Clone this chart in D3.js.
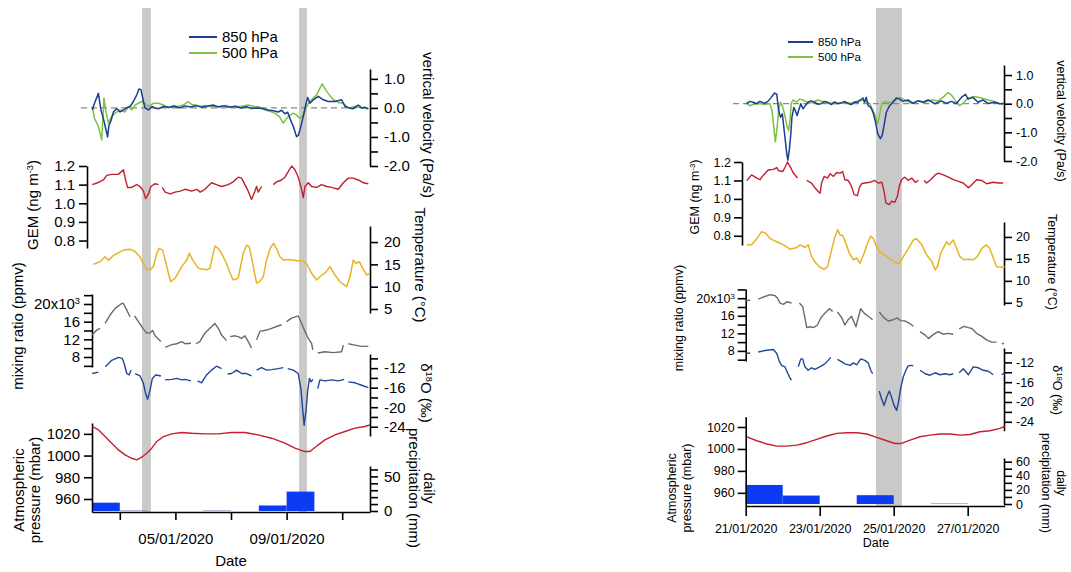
<!DOCTYPE html>
<html><head><meta charset="utf-8">
<script src="https://cdn.jsdelivr.net/npm/d3@7"></script>
<style>body{margin:0;background:#fff}svg{display:block}</style>
</head><body><svg id="c" width="1071" height="572"></svg>
<script>
// ---------------- DATA (time = days after panel start) ----------------
const L_start = "2020-01-02", L_end = "2020-01-12";
const R_start = "2020-01-21", R_end = "2020-01-28";
const L_xTickLabels = ["05/01/2020", "09/01/2020"];
const legendLabels = ["850 hPa", "500 hPa"];

const L_bands = [[1.8, 2.12], [7.45, 7.73]];
const R_bands = [[3.52, 4.22]];

const L_vv850 = [[0.01,-0.07],[0.09,0.16],[0.23,0.5],[0.32,-0.07],[0.41,-0.36],[0.49,-0.7],[0.56,-1.0],[0.61,-0.6],[0.68,-0.45],[0.77,-0.14],[0.89,-0.02],[1.01,-0.14],[1.13,-0.07],[1.25,0],[1.37,0.05],[1.49,0.22],[1.61,0.45],[1.69,0.65],[1.76,0.63],[1.85,0.22],[1.91,0],[2.03,-0.07],[2.15,0.05],[2.27,0],[2.39,-0.03],[2.57,0.05],[2.75,0.02],[2.95,0.06],[3.15,0.0],[3.35,0.07],[3.55,0.03],[3.75,0.08],[3.95,0.02],[4.15,0.06],[4.35,0.1],[4.55,0.03],[4.75,0.07],[4.95,0.02],[5.15,0.06],[5.35,0.0],[5.55,0.04],[5.75,-0.02],[5.98,0],[6.16,-0.03],[6.34,-0.07],[6.52,-0.1],[6.7,-0.14],[6.82,-0.08],[6.94,-0.2],[7.04,-0.15],[7.12,-0.36],[7.24,-0.64],[7.36,-0.99],[7.42,-0.95],[7.48,-0.76],[7.6,-0.29],[7.7,0.16],[7.76,0.36],[7.84,0.16],[7.96,0.28],[8.14,0.4],[8.32,0.28],[8.5,0.22],[8.74,0.22],[8.98,0.28],[9.1,0.05],[9.25,0.0],[9.39,-0.03],[9.5,0.05],[9.58,0.1],[9.7,0],[9.82,0.02],[9.94,-0.03]];
const L_vv500 = [[0.01,0.05],[0.09,-0.36],[0.23,-0.64],[0.35,-1.1],[0.43,0.34],[0.49,-0.07],[0.59,-0.52],[0.71,-0.29],[0.83,-0.18],[1.01,-0.07],[1.19,-0.14],[1.31,0.05],[1.43,-0.07],[1.55,0.1],[1.67,0.16],[1.79,0.22],[1.91,0.16],[2.03,0.05],[2.21,0.16],[2.39,0.16],[2.57,0.1],[2.75,0],[2.92,0.08],[3.1,0.05],[3.28,0.1],[3.46,0.22],[3.58,0.12],[3.7,0.1],[3.88,0.05],[4.06,0.08],[4.3,0.04],[4.54,0.05],[4.78,0.08],[5.02,0.03],[5.14,0.05],[5.38,0.06],[5.62,0.1],[5.86,0.04],[5.98,0.05],[6.22,-0.07],[6.4,-0.12],[6.58,-0.18],[6.74,-0.3],[6.88,-0.52],[7.06,-0.29],[7.24,-0.18],[7.36,-0.25],[7.48,-0.36],[7.6,-0.24],[7.78,0.16],[7.9,0.28],[8.08,0.45],[8.28,0.83],[8.44,0.57],[8.68,0.28],[8.86,0.19],[9.04,0.16],[9.22,0],[9.46,0.05],[9.7,0],[9.94,-0.03]];
const L_gem = [[0.01,1.10],[0.2,1.11],[0.41,1.125],[0.53,1.15],[0.71,1.155],[0.95,1.155],[1.13,1.18],[1.21,1.125],[1.28,1.085],[1.43,1.085],[1.61,1.10],[1.73,1.09],[1.85,1.065],[1.93,1.025],[2.03,1.05],[2.12,1.09],[2.27,1.105],[2.39,1.10],[2.45,null],[2.53,1.085],[2.63,1.06],[2.81,1.05],[2.99,1.06],[3.17,1.065],[3.35,1.075],[3.58,1.065],[3.77,1.075],[3.89,1.06],[4.06,1.075],[4.3,1.11],[4.48,1.10],[4.66,1.09],[4.9,1.10],[5.08,1.115],[5.26,1.14],[5.38,1.135],[5.5,1.10],[5.62,1.065],[5.74,1.02],[5.86,1.065],[5.92,1.09],[5.98,1.06],[6.1,1.09],[6.3,null],[6.52,1.10],[6.64,1.115],[6.82,1.125],[6.94,1.14],[7.06,1.17],[7.18,1.20],[7.3,1.18],[7.42,1.14],[7.52,1.085],[7.6,1.03],[7.66,1.09],[7.78,1.11],[7.9,1.09],[8.08,1.085],[8.26,1.10],[8.44,1.09],[8.62,1.085],[8.86,1.075],[9.04,1.11],[9.22,1.135],[9.4,1.135],[9.58,1.125],[9.76,1.11],[9.94,1.105]];
const L_temp = [[0.05,15.0],[0.29,15.6],[0.47,16.7],[0.59,15.9],[0.77,17.0],[1.13,18.2],[1.37,18.4],[1.55,17.9],[1.72,16.7],[1.84,15.2],[1.97,13.9],[2.09,13.8],[2.21,14.5],[2.33,17.5],[2.42,18.6],[2.54,18.2],[2.63,16],[2.75,13.0],[2.83,11.1],[2.99,11.9],[3.23,14.5],[3.41,16],[3.5,17.5],[3.62,16],[3.83,14.1],[4.12,13.8],[4.24,14.1],[4.42,19.1],[4.54,18.6],[4.66,17.5],[4.84,15.2],[4.97,13.0],[5.08,11.5],[5.26,11.9],[5.44,17.5],[5.56,19.3],[5.66,18.9],[5.78,15.2],[5.92,10.8],[6.02,11.1],[6.16,12.2],[6.28,16],[6.41,18.6],[6.53,19.7],[6.65,18.4],[6.76,16.7],[6.88,16],[7.12,16.1],[7.36,15.8],[7.6,15.8],[7.72,15.2],[7.9,13],[8.08,11.5],[8.26,12.6],[8.38,13],[8.56,14.5],[8.74,12.6],[8.92,11.1],[9.16,10.0],[9.28,12.2],[9.4,16],[9.5,15.2],[9.62,15.6],[9.76,13.8],[9.88,12.6],[9.98,13.0]];
const L_mr = [[0.01,13000],[0.17,14100],[0.29,14500],[0.36,null],[0.47,15600],[0.65,17500],[0.83,19000],[1.07,20100],[1.13,20100],[1.25,18600],[1.37,17100],[1.45,null],[1.53,17300],[1.67,16000],[1.85,14300],[1.97,13400],[2.09,13500],[2.18,14000],[2.27,12800],[2.48,11500],[2.55,null],[2.63,10200],[2.87,10800],[3.05,11000],[3.23,11500],[3.35,11000],[3.56,11100],[3.65,null],[3.74,11000],[3.88,11500],[4.06,13400],[4.24,14500],[4.42,15600],[4.54,14500],[4.66,13000],[4.84,11700],[4.9,null],[4.97,12600],[5.14,12800],[5.26,12600],[5.38,12200],[5.5,12800],[5.62,11500],[5.74,10000],[5.83,null],[5.92,11900],[6.04,13800],[6.28,14100],[6.46,14500],[6.64,14900],[6.82,15300],[6.91,null],[7.0,16000],[7.18,16800],[7.42,17300],[7.54,15600],[7.66,13800],[7.78,12200],[7.9,11100],[7.94,9600],[8.03,null],[8.12,8900],[8.38,9200],[8.68,9000],[8.98,9200],[9.04,10700],[9.13,null],[9.22,11000],[9.46,10700],[9.7,10400],[9.94,10400]];
const L_d18O = [[0.01,-13.1],[0.23,-12.8],[0.36,null],[0.48,-11.7],[0.71,-10.4],[0.95,-9.8],[1.09,-10.0],[1.16,-11.1],[1.25,-13.1],[1.33,-13.4],[1.41,-12.4],[1.48,null],[1.55,-13.1],[1.73,-13.6],[1.85,-15.1],[1.93,-17.2],[2.0,-18.4],[2.09,-16.5],[2.17,-14.1],[2.29,-13.4],[2.48,-13.6],[2.55,null],[2.63,-14.4],[2.87,-14.3],[3.05,-14.1],[3.23,-14.4],[3.35,-14.3],[3.56,-14.6],[3.65,null],[3.8,-14.6],[3.94,-15.0],[4.12,-13.4],[4.3,-12.4],[4.48,-11.6],[4.66,-12.1],[4.75,null],[4.88,-13.2],[5.02,-13.1],[5.2,-12.4],[5.38,-13.1],[5.56,-13.1],[5.74,-13.6],[5.83,null],[5.92,-12.4],[6.1,-11.9],[6.28,-12.4],[6.46,-12.3],[6.7,-12.1],[6.88,-11.9],[6.96,null],[7.04,-12.1],[7.24,-12.4],[7.42,-13.1],[7.52,-16.5],[7.58,-20.6],[7.63,-23.7],[7.7,-20.6],[7.76,-16.5],[7.82,-14.1],[7.88,-14.8],[7.95,-14.3],[8.03,null],[8.12,-16.2],[8.2,-14.4],[8.38,-14.6],[8.62,-14.4],[8.86,-14.6],[9.07,-14.3],[9.15,null],[9.22,-14.8],[9.46,-15.0],[9.7,-15.5],[9.94,-16.0]];
const L_pres = [[0.01,1026.8],[0.23,1023.7],[0.47,1017.5],[0.71,1011.4],[0.95,1005.2],[1.19,1000.6],[1.43,997.5],[1.61,996],[1.79,998.5],[1.97,1002.2],[2.15,1006.8],[2.33,1013],[2.57,1017.5],[2.87,1020],[3.23,1021.3],[3.59,1020.6],[4.06,1020],[4.54,1020],[5.02,1021.3],[5.5,1021.3],[5.98,1019],[6.46,1016],[6.94,1011.4],[7.3,1006.8],[7.66,1003.7],[7.84,1003.7],[8.14,1009.9],[8.38,1014.5],[8.74,1019],[9.1,1022.2],[9.46,1025.3],[9.82,1026.8],[10.0,1028.3]];
const L_precip = [[0,1,12],[1,2,1],[4,5,1],[6,7,8],[7,8,28]];

const R_vv850 = [[0.02,0],[0.11,0.08],[0.2,0.05],[0.29,0],[0.38,0.08],[0.51,0.01],[0.6,0.08],[0.69,0.22],[0.78,0.37],[0.84,0.33],[0.89,-0.24],[0.94,-0.47],[0.99,-0.36],[1.03,-0.82],[1.07,-1.28],[1.11,-1.74],[1.14,-1.97],[1.18,-1.6],[1.22,-1.05],[1.25,-0.47],[1.3,-0.13],[1.34,-0.24],[1.39,-0.41],[1.43,-0.24],[1.49,0],[1.55,-0.18],[1.61,-0.07],[1.68,0.05],[1.77,0.1],[1.86,0.05],[1.95,-0.02],[2.04,0],[2.13,0.08],[2.22,0.05],[2.31,-0.03],[2.4,0.06],[2.49,0],[2.58,0.02],[2.67,0.08],[2.76,0.01],[2.85,-0.03],[2.94,0.06],[3.03,0.05],[3.17,0.2],[3.21,0.05],[3.26,0.22],[3.31,-0.07],[3.38,-0.13],[3.44,-0.3],[3.5,-0.59],[3.57,-1.05],[3.64,-1.22],[3.69,-1.1],[3.74,-0.76],[3.8,-0.3],[3.89,-0.07],[3.98,0.05],[4.07,0.2],[4.16,0.16],[4.25,0.08],[4.39,0.13],[4.52,0.01],[4.66,0.1],[4.79,0.05],[4.93,0.13],[5.11,0],[5.29,0.1],[5.42,0.01],[5.56,0.08],[5.69,0],[5.83,0.22],[5.94,0.33],[6.01,0.16],[6.14,0.22],[6.28,0.05],[6.41,0.13],[6.55,0.01],[6.73,0.05],[6.86,0],[6.98,0.01]];
const R_vv500 = [[0.02,0.01],[0.11,-0.07],[0.25,0],[0.38,0.01],[0.51,-0.03],[0.65,0.01],[0.71,-0.24],[0.76,-0.82],[0.8,-1.33],[0.84,-0.94],[0.89,-0.24],[0.94,0.05],[0.99,-0.07],[1.05,-0.36],[1.11,-0.76],[1.16,-0.94],[1.2,-0.53],[1.23,0],[1.28,0.13],[1.37,0.05],[1.46,0.16],[1.59,0.1],[1.73,0.01],[1.95,0.13],[2.13,0.05],[2.4,0],[2.67,0.05],[2.9,0.01],[3.08,0.13],[3.21,0.1],[3.35,0.01],[3.44,-0.24],[3.5,-0.41],[3.56,-0.7],[3.59,-0.59],[3.64,-0.24],[3.68,0],[3.76,0.08],[3.89,0.05],[4.02,0.1],[4.16,0.22],[4.3,0.13],[4.48,0.01],[4.66,0.1],[4.84,0.05],[5.02,0.13],[5.2,0.1],[5.33,0.22],[5.47,0.39],[5.56,0.31],[5.65,0.13],[5.78,-0.07],[5.87,0.01],[6.01,0.2],[6.19,0.25],[6.37,0.2],[6.55,0.13],[6.73,0.08],[6.86,0],[6.98,-0.03]];
const R_gem = [[0.03,1.10],[0.16,1.13],[0.3,1.113],[0.39,1.104],[0.48,1.13],[0.61,1.157],[0.75,1.16],[0.84,1.17],[0.88,1.154],[1.0,1.148],[1.06,1.17],[1.13,1.2],[1.2,1.175],[1.29,1.14],[1.4,1.113],[1.5,null],[1.65,1.10],[1.78,1.086],[1.87,1.06],[1.96,1.04],[2.01,1.03],[2.05,1.086],[2.12,1.122],[2.21,1.113],[2.28,1.136],[2.37,1.122],[2.46,1.143],[2.55,1.14],[2.62,1.148],[2.68,1.104],[2.77,1.10],[2.86,1.068],[2.93,1.023],[3.02,1.018],[3.07,1.06],[3.13,1.082],[3.22,1.086],[3.36,1.09],[3.49,1.10],[3.58,1.086],[3.68,1.09],[3.74,1.04],[3.79,0.978],[3.88,0.969],[3.94,0.987],[4.03,0.982],[4.1,1.014],[4.15,1.068],[4.21,1.104],[4.3,1.118],[4.39,1.10],[4.49,1.113],[4.58,1.09],[4.67,1.10],[4.74,null],[4.82,1.10],[4.89,1.086],[5.0,1.104],[5.12,1.13],[5.21,1.14],[5.34,1.13],[5.48,1.118],[5.61,1.104],[5.75,1.095],[5.88,1.086],[6.02,1.06],[6.11,1.077],[6.24,1.104],[6.38,1.10],[6.51,1.082],[6.69,1.09],[6.83,1.086],[6.96,1.086]];
const R_temp = [[0.03,18.2],[0.16,18.2],[0.3,19.6],[0.43,21.2],[0.55,20.8],[0.66,19.6],[0.84,18.9],[1.02,18.2],[1.2,17.2],[1.38,17.6],[1.47,18.2],[1.6,17.6],[1.69,18.2],[1.78,15.5],[1.9,14.0],[2.01,13.1],[2.12,12.6],[2.21,13.2],[2.3,16.3],[2.41,20],[2.49,21.7],[2.55,20.4],[2.62,20.4],[2.71,18.5],[2.8,16.3],[2.91,14.8],[3.0,15.2],[3.09,14.0],[3.2,16.3],[3.29,18.5],[3.38,20.2],[3.45,19.6],[3.54,17.8],[3.63,16.6],[3.74,15.9],[3.81,15.5],[3.94,14.8],[4.08,14.0],[4.17,14.2],[4.26,15.5],[4.4,17.4],[4.53,19.3],[4.62,19.6],[4.76,18.2],[4.89,15.9],[5.03,14.4],[5.12,12.5],[5.18,13.2],[5.27,16.3],[5.36,17.8],[5.43,18.9],[5.5,18.2],[5.61,19.3],[5.7,17.4],[5.79,15.5],[5.9,14.8],[6.02,14.9],[6.15,14.8],[6.26,15.5],[6.38,17.4],[6.5,18.2],[6.59,17.4],[6.68,15.5],[6.78,13.2],[6.92,13.1],[7.0,13.2]];
const R_mr = [[0.01,19400],[0.12,19600],[0.2,null],[0.34,19800],[0.52,20400],[0.66,20800],[0.79,20600],[0.86,20000],[0.93,18900],[1.02,18600],[1.11,19200],[1.24,18900],[1.32,null],[1.45,18900],[1.54,18100],[1.6,15500],[1.65,13300],[1.74,13500],[1.83,13300],[1.94,13900],[2.03,15500],[2.14,16600],[2.26,17600],[2.35,17000],[2.42,null],[2.48,16900],[2.6,15500],[2.68,13900],[2.77,15100],[2.86,15900],[2.98,13500],[3.04,15500],[3.11,17600],[3.2,16600],[3.31,15900],[3.43,15100],[3.52,null],[3.61,16900],[3.72,15700],[3.85,14800],[3.99,15100],[4.1,15500],[4.19,14900],[4.31,14800],[4.44,14200],[4.53,13600],[4.62,null],[4.71,12400],[4.85,11600],[4.94,10800],[5.05,11600],[5.2,12400],[5.34,11800],[5.47,12000],[5.61,11800],[5.69,null],[5.77,13000],[5.9,13600],[6.02,13300],[6.11,13100],[6.24,12000],[6.38,11300],[6.51,10500],[6.65,10000],[6.78,10000],[6.86,null],[6.92,9700],[6.98,9700]];
const R_d18O = [[0.01,-10.2],[0.12,-10.1],[0.2,null],[0.34,-9.9],[0.52,-9.6],[0.75,-9.4],[0.84,-10.2],[0.91,-11.8],[0.97,-12.6],[1.06,-12.9],[1.13,-14.1],[1.2,-15.2],[1.24,-15.6],[1.33,null],[1.42,-12.9],[1.49,-11.3],[1.54,-11.3],[1.6,-12.9],[1.69,-13.6],[1.78,-13.1],[1.87,-13.4],[2.0,-12.9],[2.14,-12.3],[2.23,-11.6],[2.3,-11.0],[2.39,null],[2.48,-11.4],[2.6,-11.9],[2.68,-12.3],[2.82,-12.6],[2.91,-12.1],[3.0,-12.5],[3.11,-11.3],[3.22,-11.6],[3.31,-12.1],[3.38,-13.6],[3.43,-14.3],[3.52,null],[3.61,-17.8],[3.67,-19.3],[3.74,-20.7],[3.81,-19.0],[3.88,-17.8],[3.94,-19.0],[4.01,-20.7],[4.08,-21.7],[4.13,-20.0],[4.19,-17.2],[4.26,-14.9],[4.33,-13.6],[4.39,-12.7],[4.46,-12.6],[4.53,-12.7],[4.62,null],[4.71,-13.6],[4.85,-14.3],[4.98,-14.6],[5.12,-14.1],[5.25,-14.5],[5.39,-14.3],[5.52,-14.5],[5.61,-14.3],[5.69,null],[5.77,-14.1],[5.88,-13.3],[6.02,-14.5],[6.15,-12.9],[6.29,-13.1],[6.42,-13.6],[6.56,-13.8],[6.69,-14.5],[6.78,null],[6.92,-14.5],[7.0,-14.1]];
const R_pres = [[0.03,1011.1],[0.3,1007.5],[0.57,1004.5],[0.84,1002.6],[1.11,1002.6],[1.38,1003.5],[1.65,1005.7],[1.92,1008.7],[2.19,1011.8],[2.46,1014.2],[2.73,1014.8],[3.0,1014.8],[3.27,1013.6],[3.54,1010.5],[3.81,1007.5],[4.03,1005.0],[4.21,1005.0],[4.44,1008.1],[4.71,1011.1],[4.98,1012.6],[5.25,1013.6],[5.52,1013.6],[5.79,1012.6],[6.06,1013.2],[6.33,1015.7],[6.6,1016.6],[6.87,1018.7],[7.0,1020.5]];
const R_precip = [[0,1,27],[1,2,12],[3,4,12.5],[5,6,1]];

const vvTicks = [-2, -1.5, -1, -0.5, 0, 0.5, 1];
const gemTicks = [0.8, 0.9, 1.0, 1.1, 1.2];
const tempTicks = [5, 10, 15, 20];
const mrTicks = [6000, 8000, 10000, 12000, 14000, 16000, 18000, 20000, 22000];
const mrLabels = [8000, 12000, 16000, 20000];
const d18Ticks = [-24, -22, -20, -18, -16, -14, -12, -10];
const d18Labels = [-24, -20, -16, -12];
const presTicks = [960, 980, 1000, 1020];
const precipTicks = [0, 10, 20, 30, 40, 50, 60];
const L_precipLabels = [0, 50];
const R_precipLabels = [0, 20, 40, 60];

// ---------------- STYLE ----------------
const FONT = "'Liberation Sans', Arial, sans-serif";
const C = {v850:"#1b3d92", v500:"#7dc143", gem:"#c01f30", temp:"#e7b324", mr:"#6a6a6a",
           d18:"#1f4797", pres:"#c61e2c", bar:"#0b3cf4", barLight:"#8e99c5", band:"#c9c9c9"};
const DAY = 864e5;
const svg = d3.select("#c");

function yAxis(g, scale, orient, x, ticks, fmt, fs, pad) {
  const a = (orient === "left" ? d3.axisLeft : d3.axisRight)(scale)
    .tickValues(ticks).tickFormat(fmt).tickSize(8).tickSizeOuter(0).tickPadding(pad);
  const gg = g.append("g").attr("transform", `translate(${x},0)`).call(a)
    .attr("font-family", FONT).attr("font-size", fs);
  gg.select(".domain").attr("stroke", "#000").attr("stroke-width", 1.6);
  gg.selectAll(".tick line").attr("stroke", "#000").attr("stroke-width", 1.6);
  gg.selectAll(".tick text").attr("fill", "#000");
  return gg;
}
function title(g, x, cy, rot, fs, parts) {
  const t = g.append("text").attr("transform", `translate(${x},${cy}) rotate(${rot})`)
    .attr("text-anchor", "middle").attr("dy", "0.35em")
    .attr("font-family", FONT).attr("font-size", fs).attr("fill", "#000");
  parts.forEach(p => {
    if (typeof p === "string") t.append("tspan").text(p);
    else t.append("tspan").attr("baseline-shift", "super").attr("font-size", "0.62em").text(p.sup);
  });
}

function drawPanel(P) {
  const g = svg.append("g");
  const start = new Date(P.start + "T00:00:00Z"), end = new Date(P.end + "T00:00:00Z");
  const x = d3.scaleUtc().domain([start, end]).range(P.xr);
  const T = t => new Date(start.getTime() + t * DAY);
  const X = t => x(T(t));

  // grey event bands
  g.selectAll(".band").data(P.bands).join("rect")
    .attr("x", d => X(d[0])).attr("width", d => X(d[1]) - X(d[0]))
    .attr("y", P.bandTop).attr("height", P.axisY - P.bandTop).attr("fill", C.band);

  const yv = d3.scaleLinear().domain(P.vvDom).range(P.vvR);
  const yg = d3.scaleLinear().domain(P.gemDom).range(P.gemR);
  const yt = d3.scaleLinear().domain(P.tDom).range(P.tR);
  const ym = d3.scaleLinear().domain(P.mrDom).range(P.mrR);
  const yd = d3.scaleLinear().domain(P.dDom).range(P.dR);
  const yp = d3.scaleLinear().domain(P.pDom).range(P.pR);
  const yr = d3.scaleLinear().domain(P.rDom).range(P.rR);

  // precipitation bars
  g.selectAll(".bar").data(P.precip).join("rect")
    .attr("x", d => X(d[0])).attr("width", d => X(d[1]) - X(d[0]))
    .attr("y", d => yr(d[2])).attr("height", d => yr(0) - yr(d[2]))
    .attr("fill", d => d[2] < 2 ? C.barLight : C.bar);

  // zero dashed line
  g.append("line").attr("x1", P.zeroX0).attr("x2", P.xr[1]).attr("y1", yv(0)).attr("y2", yv(0))
    .attr("stroke", "#8a8a8a").attr("stroke-width", 1.3).attr("stroke-dasharray", "6,4");

  // axes
  const f1 = d => d.toFixed(1);
  yAxis(g, yv, "right", P.rightX, vvTicks, d => Number.isInteger(d) ? f1(d) : "", P.fs, P.padR);
  yAxis(g, yg, "left", P.gemX, gemTicks, f1, P.fs, P.padL);
  yAxis(g, yt, "right", P.rightX, tempTicks, d => String(d), P.fs, P.padR);
  const mA = yAxis(g, ym, "left", P.leftX, mrTicks, d => mrLabels.includes(d) ? String(d / 1000) : "", P.fs, P.padL);
  mA.selectAll(".tick text").filter(d => d === 20000).text("20x10")
    .append("tspan").attr("baseline-shift", "super").attr("font-size", "0.62em").text("3");
  yAxis(g, yd, "right", P.rightX, d18Ticks, d => d18Labels.includes(d) ? String(d) : "", P.fs, P.padR);
  yAxis(g, yp, "left", P.leftX, presTicks, d => String(d), P.fs, P.padL);
  yAxis(g, yr, "right", P.rightX, precipTicks, d => P.precipLabels.includes(d) ? String(d) : "", P.fs, P.padR);

  // x axis
  const fmt = d3.utcFormat("%d/%m/%Y");
  const xa = d3.axisBottom(x).ticks(d3.utcDay.every(2)).tickSize(P.xTick).tickSizeOuter(0).tickPadding(P.xPad)
    .tickFormat(d => (P.xLabels === null || P.xLabels.includes(fmt(d))) ? fmt(d) : "");
  const xg = g.append("g").attr("transform", `translate(0,${P.axisY})`).call(xa)
    .attr("font-family", FONT).attr("font-size", P.fs);
  xg.select(".domain").attr("stroke", "#000").attr("stroke-width", 1.6);
  xg.selectAll(".tick line").attr("stroke", "#000").attr("stroke-width", 1.6);
  xg.selectAll(".tick text").attr("fill", "#000");
  g.append("text").attr("x", P.dateXY[0]).attr("y", P.dateXY[1]).attr("text-anchor", "middle")
    .attr("font-family", FONT).attr("font-size", P.fs).text("Date");

  // series
  const line = y => d3.line().defined(d => d[1] !== null).x(d => X(d[0])).y(d => y(d[1]));
  const draw = (data, y, col, w) => g.append("path").datum(data).attr("d", line(y))
    .attr("fill", "none").attr("stroke", col).attr("stroke-width", w).attr("stroke-linejoin", "round");
  draw(P.pres, yp, C.pres, 1.4);
  draw(P.d18, yd, C.d18, 1.4);
  draw(P.mr, ym, C.mr, 1.4);
  draw(P.temp, yt, C.temp, 1.5);
  draw(P.gem, yg, C.gem, 1.4);
  draw(P.vv500, yv, C.v500, 1.5);
  draw(P.vv850, yv, C.v850, 1.5);

  // legend
  [[C.v850, legendLabels[0]], [C.v500, legendLabels[1]]].forEach((d, i) => {
    const yy = P.leg.y + i * P.leg.dy;
    g.append("line").attr("x1", P.leg.x).attr("x2", P.leg.x + P.leg.w).attr("y1", yy).attr("y2", yy)
      .attr("stroke", d[0]).attr("stroke-width", 2);
    g.append("text").attr("x", P.leg.x + P.leg.w + 5).attr("y", yy).attr("dy", "0.35em")
      .attr("font-family", FONT).attr("font-size", P.leg.fs).text(d[1]);
  });

  // axis titles
  const T_ = P.titles, fs = P.fs;
  title(g, T_.vv[0], T_.vv[1], 90, fs, ["vertical velocity (Pa/s)"]);
  title(g, T_.gem[0], T_.gem[1], -90, fs, ["GEM (ng m", {sup: "-3"}, ")"]);
  title(g, T_.temp[0], T_.temp[1], 90, fs, ["Temperature (°C)"]);
  title(g, T_.mr[0], T_.mr[1], -90, fs, ["mixing ratio (ppmv)"]);
  title(g, T_.d18[0], T_.d18[1], 90, fs, ["δ", {sup: "18"}, "O (‰)"]);
  title(g, T_.pres[0], T_.pres[2], -90, fs, ["Atmospheric"]);
  title(g, T_.pres[1], T_.pres[2], -90, fs, ["pressure (mbar)"]);
  title(g, T_.prec[0], T_.prec[2], 90, fs, ["daily"]);
  title(g, T_.prec[1], T_.prec[2], 90, fs, ["precipitation (mm)"]);
}

drawPanel({
  start: L_start, end: L_end, xr: [92, 370], axisY: 512, bandTop: 8,
  bands: L_bands, precip: L_precip, precipLabels: L_precipLabels, xLabels: L_xTickLabels,
  vv850: L_vv850, vv500: L_vv500, gem: L_gem, temp: L_temp, mr: L_mr, d18: L_d18O, pres: L_pres,
  vvDom: [-2.0, 1.34], vvR: [166, 69], gemDom: [0.76, 1.2], gemR: [248, 166],
  tDom: [4.1, 23.6], tR: [313, 226], mrDom: [5740, 22260], mrR: [367, 294],
  dDom: [-25.9, -9.1], dR: [436, 354], pDom: [948, 1030], pR: [512, 423], rDom: [0, 65], rR: [511, 466],
  rightX: 370, leftX: 92, gemX: 87, zeroX0: 81, fs: 15, padL: 4, padR: 6, xTick: 8, xPad: 13,
  dateXY: [231, 566], leg: {x: 189, y: 37, dy: 16, w: 28, fs: 15},
  titles: {vv: [428, 125], gem: [33, 205], temp: [420, 265], mr: [18, 326], d18: [426, 393],
           pres: [19, 35, 490], prec: [429, 414, 488]}
});

drawPanel({
  start: R_start, end: R_end, xr: [745.7, 1004.7], axisY: 506, bandTop: 8,
  bands: R_bands, precip: R_precip, precipLabels: R_precipLabels, xLabels: null,
  vv850: R_vv850, vv500: R_vv500, gem: R_gem, temp: R_temp, mr: R_mr, d18: R_d18O, pres: R_pres,
  vvDom: [-2.0, 1.35], vvR: [161, 65], gemDom: [0.75, 1.2], gemR: [245, 162],
  tDom: [4.5, 23.4], tR: [305, 222], mrDom: [5700, 22100], mrR: [361, 289],
  dDom: [-25.8, -9.1], dR: [430.7, 348], pDom: [948, 1029.4], pR: [506, 416.7], rDom: [0, 65.2], rR: [504, 458],
  rightX: 1004, leftX: 745.7, gemX: 742, zeroX0: 733, fs: 12.5, padL: 3, padR: 4, xTick: 10, xPad: 8,
  dateXY: [876, 547], leg: {x: 788, y: 42, dy: 15, w: 25, fs: 11.5},
  titles: {vv: [1061, 121], gem: [695, 197], temp: [1052, 262], mr: [679, 318], d18: [1057, 390],
           pres: [672, 687, 488], prec: [1061, 1046, 483]}
});
</script></body></html>
